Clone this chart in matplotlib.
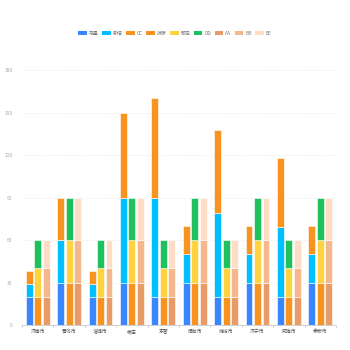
import numpy as np
import matplotlib
matplotlib.use("Agg")
import matplotlib.pyplot as plt
from matplotlib.patches import Patch

plt.rcParams['font.family'] = ['Noto Sans CJK SC', 'DejaVu Sans']

# ── Veri ──────────────────────────────────────────────────────────────────────
cities = ["济南市", "青岛市", "淄博市", "枣庄", "东营", "烟台市", "潍坊市", "济宁市", "威海市", "泰安市"]

# yığın 1
cunliang = [20, 30, 20, 30, 20, 30, 20, 30, 20, 30]
xinzeng  = [9, 30, 9, 60, 70, 20, 59, 20, 49, 20]
cc       = [9, 30, 9, 60, 70, 20, 59, 20, 49, 20]
# yığın 2
chaichu  = [20, 30, 20, 30, 20, 30, 20, 30, 20, 30]
yuding   = [20, 30, 20, 30, 20, 30, 20, 30, 20, 30]
dd       = [20, 30, 20, 30, 20, 30, 20, 30, 20, 30]
# yığın 3
aa       = [20, 30, 20, 30, 20, 30, 20, 30, 20, 30]
bb       = [20, 30, 20, 30, 20, 30, 20, 30, 20, 30]
ee       = [20, 30, 20, 30, 20, 30, 20, 30, 20, 30]

y_ticks = [0, 30, 60, 90, 120, 150, 180]

stacks = [
    [("存量", cunliang, "#3A86FF"), ("新增", xinzeng, "#00BFFF"), ("CC", cc, "#F7931E")],
    [("拆除", chaichu, "#F7931E"), ("预定", yuding, "#FFD23F"), ("DD", dd, "#1FC15C")],
    [("AA", aa, "#E89B66"), ("BB", bb, "#F4B88C"), ("EE", ee, "#FFDCC6")],
]

# ── Çizim ─────────────────────────────────────────────────────────────────────
fig = plt.figure(figsize=(3.5, 3.5), dpi=100)
ax = fig.add_axes([0.063, 0.0714, 0.897, 0.7286])

x = np.arange(len(cities))
width = 0.22
offsets = [-0.27, 0.0, 0.27]
handles = []

for off, stack in zip(offsets, stacks):
    bottom = np.zeros(len(cities))
    for name, vals, color in stack:
        vals = np.array(vals, dtype=float)
        ax.bar(x + off, vals, width, bottom=bottom, color=color,
               edgecolor="white", linewidth=0.4, zorder=3)
        bottom += vals
        handles.append(Patch(facecolor=color, label=name))

ax.set_xlim(-0.5, len(cities) - 0.5)
ax.set_ylim(0, 180)
ax.set_yticks(y_ticks)
ax.set_yticklabels([str(v) for v in y_ticks], fontsize=3.5, color="#aaaaaa")
ax.set_xticks(x)
ax.set_xticklabels(cities, fontsize=3.5, color="#555555")
ax.set_xticks(np.arange(-0.5, len(cities)), minor=True)
ax.tick_params(axis="x", which="major", length=0, pad=3)
ax.tick_params(axis="x", which="minor", length=2.5, width=0.4, color="#bbbbbb")
ax.tick_params(axis="y", length=0, pad=7)

ax.grid(axis="y", linestyle=(0, (1.5, 1.5)), linewidth=0.4, color="#e3e3e3", zorder=0)
for s in ["top", "right", "left"]:
    ax.spines[s].set_visible(False)
ax.spines["bottom"].set_color("#bbbbbb")
ax.spines["bottom"].set_linewidth(0.5)

fig.legend(handles=handles, loc="center", bbox_to_anchor=(0.5, 0.905), ncol=9,
           fontsize=3.5, frameon=False, handlelength=1.8, handleheight=1.1,
           columnspacing=0.7, handletextpad=0.4, labelcolor="#777777")

fig.savefig("out.png", dpi=100)
plt.close(fig)
